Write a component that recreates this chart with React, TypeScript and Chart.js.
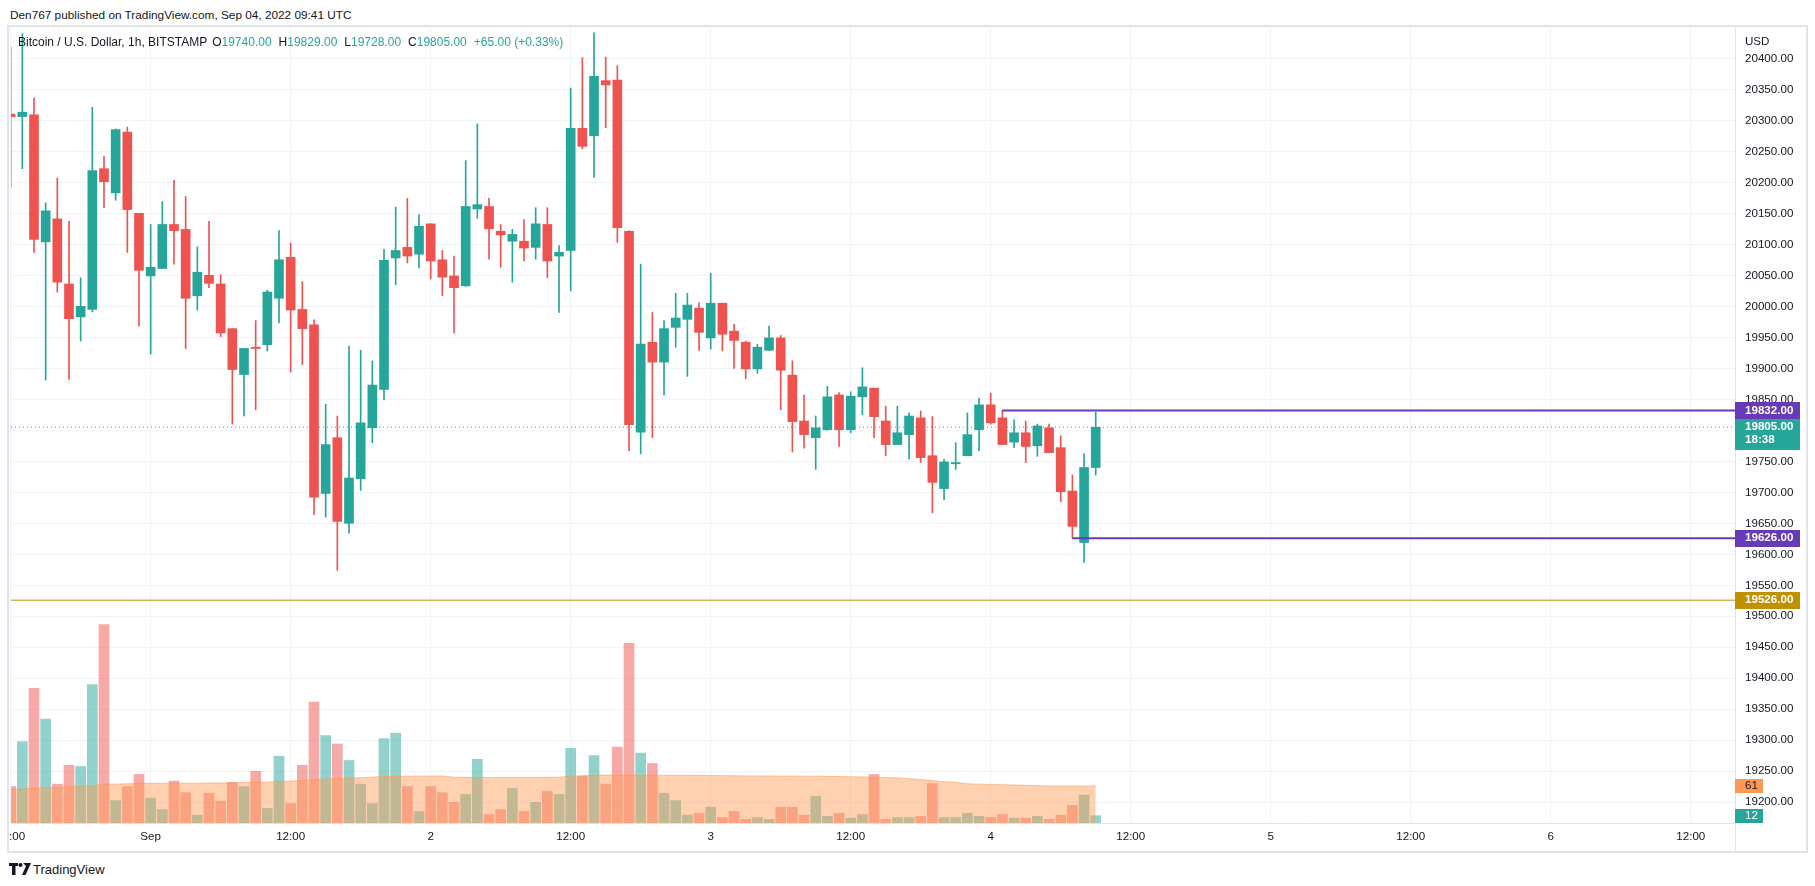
import React, { useEffect, useRef } from 'react';
import { Chart, registerables } from 'chart.js';

Chart.register(...registerables);

const FONT = '"Liberation Sans", Arial, sans-serif';
const TEAL = '#26a69a';
const RED = '#ef5350';
const PURPLE = '#673ab7';
const GOLD = '#bf9000';
const TEXT = '#131722';
const GRID = '#f0f3fa';
const BORDER = '#e0e3eb';

// hours relative to Sep 1 2022 00:00 UTC; first candle = Aug 31 12:00
const FIRST_HOUR = -12;

const opens = [
  20310, 20306, 20309, 20104, 20141, 20036, 19983, 19995, 20222, 20183, 20281, 20150,
  20049, 20061, 20132, 20124, 20017, 20050, 20036, 19964, 19890, 19934, 19938, 20013,
  20079, 19995, 19970, 19698, 19788, 19650, 19722, 19804, 19866, 20078, 20095, 20084,
  20133, 20075, 20049, 20033, 20157, 20161, 20121, 20105, 20105, 20095, 20132, 20081,
  20090, 20287, 20275, 20364, 20365, 20121, 19797, 19942, 19910, 19966, 19979, 19997,
  19949, 20005, 19960, 19942, 19899, 19929, 19949, 19889, 19815, 19788, 19801, 19857,
  19801, 19854, 19868, 19815, 19777, 19793, 19820, 19759, 19706, 19746, 19759, 19801,
  19841, 19820, 19781, 19796, 19775, 19804, 19772, 19702, 19619, 19740,
];
const highs = [
  20418, 20440, 20336, 20167, 20207, 20137, 20046, 20321, 20242, 20286, 20289, 20150,
  20132, 20169, 20203, 20177, 20096, 20137, 20051, 19964, 19932, 19977, 20026, 20122,
  20102, 20040, 19978, 19842, 19823, 19936, 19929, 19912, 20092, 20160, 20174, 20148,
  20133, 20090, 20081, 20235, 20294, 20174, 20132, 20124, 20140, 20159, 20159, 20098,
  20352, 20401, 20441, 20402, 20388, 20122, 20068, 19990, 19977, 20021, 20021, 20006,
  20053, 20005, 19971, 19944, 19939, 19968, 19953, 19912, 19857, 19823, 19871, 19861,
  19862, 19901, 19868, 19839, 19839, 19828, 19831, 19822, 19753, 19780, 19828, 19852,
  19860, 19832, 19817, 19815, 19810, 19810, 19791, 19728, 19762, 19829,
];
const lows = [
  20192, 20222, 20087, 19881, 20023, 19882, 19944, 19991, 20159, 20171, 20087, 19968,
  19923, 20061, 20068, 19932, 19994, 20030, 19951, 19810, 19823, 19833, 19928, 19973,
  19894, 19906, 19664, 19660, 19574, 19634, 19703, 19780, 19849, 20035, 20070, 20062,
  20044, 20017, 19957, 20032, 20142, 20076, 20063, 20039, 20073, 20076, 20046, 19990,
  20025, 20254, 20208, 20288, 20103, 19767, 19762, 19788, 19857, 19934, 19887, 19929,
  19931, 19928, 19900, 19883, 19892, 19929, 19833, 19765, 19771, 19737, 19800, 19774,
  19796, 19825, 19788, 19759, 19777, 19754, 19748, 19667, 19688, 19737, 19759, 19767,
  19810, 19777, 19772, 19748, 19758, 19764, 19685, 19626, 19587, 19728,
];
const closes = [
  20306, 20313, 20108, 20154, 20039, 19980, 20000, 20219, 20201, 20285, 20156, 20058,
  20063, 20132, 20122, 20013, 20055, 20037, 19957, 19898, 19932, 19932, 20023, 20075,
  19994, 19964, 19692, 19777, 19653, 19723, 19812, 19873, 20074, 20090, 20081, 20129,
  20073, 20047, 20030, 20161, 20164, 20125, 20115, 20116, 20094, 20133, 20073, 20087,
  20287, 20258, 20371, 20357, 20127, 19809, 19939, 19910, 19964, 19981, 20002, 19958,
  20005, 19955, 19945, 19899, 19934, 19949, 19897, 19814, 19793, 19804, 19854, 19801,
  19855, 19870, 19822, 19777, 19796, 19823, 19756, 19716, 19749, 19748, 19793, 19841,
  19812, 19777, 19796, 19774, 19807, 19764, 19701, 19645, 19740, 19805,
];
const volumes = [
  60, 134, 222, 171, 64, 95, 93, 228, 327, 37, 60, 80,
  41, 22, 69, 50, 13, 49, 36, 67, 60, 85, 24, 110,
  32, 95, 199, 144, 130, 103, 64, 32, 139, 148, 60, 19,
  60, 50, 34, 47, 105, 14, 22, 57, 19, 34, 52, 47,
  123, 77, 111, 64, 125, 296, 115, 98, 49, 37, 13, 16,
  26, 9, 19, 6, 9, 6, 26, 26, 13, 44, 11, 16,
  8, 14, 80, 6, 9, 9, 11, 65, 9, 9, 16, 11,
  9, 14, 8, 8, 11, 6, 13, 29, 46, 12,
];
const volumeMA = [
  55, 56, 57.5, 58, 58.5, 60, 61, 61.5, 64, 64, 64.5, 65,
  65.3, 65.3, 65.5, 65.5, 65.5, 66, 66, 66, 66.5, 67, 67.5, 68.5,
  69, 70, 71.5, 72.5, 73, 74, 74.5, 75.5, 76.5, 77, 77, 77.2,
  77.4, 77.4, 75.5, 75.2, 75, 75, 75, 75, 75, 75, 75.2, 75.5,
  77, 78, 78.5, 79, 79, 79, 79, 78.8, 78.6, 78.5, 78.5, 78.3,
  78.2, 78, 77.8, 77.6, 77.5, 77.4, 77.3, 77.3, 77.2, 77, 76.8, 76.5,
  76.2, 75.8, 75.5, 75, 74.3, 73, 71.5, 70, 68, 67, 64.5, 64,
  63.5, 63, 62.5, 62, 61.5, 61, 61, 61, 61, 61,
];

const timeTickHours = [-12, 0, 12, 24, 36, 48, 60, 72, 84, 96, 108, 120, 132];
const timeTickLabels = ['12:00', 'Sep', '12:00', '2', '12:00', '3', '12:00', '4', '12:00', '5', '12:00', '6', '12:00'];
const priceTicks = [
  19200, 19250, 19300, 19350, 19400, 19450, 19500, 19550, 19600, 19650, 19700, 19750, 19800,
  19850, 19900, 19950, 20000, 20050, 20100, 20150, 20200, 20250, 20300, 20350, 20400,
];

const X_MIN = -11.97;
const X_MAX = 135.79;
const Y_MIN = 19166.6;
const Y_MAX = 20450.5;
const VOL_MAX = 1311;

const levelPrices = [19832, 19626];
const levelStartHours = [73, 79];
const supportPrice = 19526;
const countdownText = '18:38';
const volumeMALabel = 61;

const LAST = closes.length - 1;
const lastPrice = closes[LAST];

const badgePlugin = {
  id: 'axisBadges',
  afterDraw(chart: any) {
    const { ctx, chartArea, scales } = chart;
    const y = scales.y;
    const yv = scales.yv;
    const x0 = chartArea.right;
    ctx.save();
    ctx.font = `bold 11.6px ${FONT}`;
    ctx.textBaseline = 'middle';
    ctx.textAlign = 'left';
    const box = (cy: number, fill: string, lines: string[], w: number, h: number, color: string) => {
      ctx.fillStyle = fill;
      ctx.fillRect(x0, Math.round(cy - h / 2), w, lines.length > 1 ? h + 14 : h);
      ctx.fillStyle = color;
      lines.forEach((t, i) => ctx.fillText(t, x0 + 10, cy + i * 13));
    };
    levelPrices.forEach((p) => box(y.getPixelForValue(p), PURPLE, [p.toFixed(2)], 65, 17, '#ffffff'));
    box(y.getPixelForValue(lastPrice), TEAL, [lastPrice.toFixed(2), countdownText], 65, 17, '#ffffff');
    box(y.getPixelForValue(supportPrice), GOLD, [supportPrice.toFixed(2)], 65, 17, '#ffffff');
    ctx.font = `11.6px ${FONT}`;
    box(yv.getPixelForValue(volumeMALabel), '#ff9850', [String(volumeMALabel)], 28, 14, TEXT);
    box(yv.getPixelForValue(volumes[LAST]), TEAL, [String(volumes[LAST])], 28, 14, '#ffffff');
    ctx.strokeStyle = BORDER;
    ctx.lineWidth = 1;
    ctx.beginPath();
    ctx.moveTo(x0 + 0.5, chartArea.bottom);
    ctx.lineTo(x0 + 0.5, chart.height);
    ctx.stroke();
    ctx.restore();
  },
};

function App() {
  const ref = useRef<HTMLCanvasElement | null>(null);

  useEffect(() => {
    if (!ref.current) return;
    const up = closes.map((c, i) => c >= opens[i]);
    const candleColors = up.map((u) => (u ? TEAL : RED));
    const volColors = up.map((u) => (u ? 'rgba(38,166,154,0.5)' : 'rgba(239,83,80,0.5)'));
    const xs = closes.map((_, i) => FIRST_HOUR + i);

    const fullLine = (price: number, color: string, width: number, dash: number[]) => ({
      type: 'line' as const,
      data: [{ x: X_MIN, y: price }, { x: X_MAX, y: price }],
      borderColor: color,
      borderWidth: width,
      borderDash: dash,
      pointRadius: 0,
      yAxisID: 'y',
      order: 0,
    });

    const chart = new Chart(ref.current, {
      type: 'bar',
      data: {
        datasets: [
          {
            type: 'bar',
            data: xs.map((x, i) => ({ x, y: [opens[i], closes[i]] })) as any,
            backgroundColor: candleColors,
            barThickness: 9,
            minBarLength: 1,
            grouped: false,
            yAxisID: 'y',
            order: 1,
          },
          {
            type: 'bar',
            data: xs.map((x, i) => ({ x, y: [lows[i], highs[i]] })) as any,
            backgroundColor: candleColors,
            barThickness: 1,
            grouped: false,
            yAxisID: 'y',
            order: 2,
          },
          {
            type: 'line',
            data: xs.map((x, i) => ({ x, y: volumeMA[i] })),
            borderColor: 'rgba(255,152,80,0.55)',
            backgroundColor: 'rgba(255,152,80,0.45)',
            borderWidth: 1,
            pointRadius: 0,
            fill: 'origin',
            yAxisID: 'yv',
            order: 3,
          },
          {
            type: 'bar',
            data: xs.map((x, i) => ({ x, y: volumes[i] })),
            backgroundColor: volColors,
            barThickness: 10,
            grouped: false,
            yAxisID: 'yv',
            order: 4,
          },
          fullLine(lastPrice, TEAL, 1, [1, 3]),
          fullLine(supportPrice, GOLD, 1, []),
          ...levelPrices.map((p, k) => ({
            type: 'line' as const,
            data: [{ x: levelStartHours[k], y: p }, { x: X_MAX, y: p }],
            borderColor: PURPLE,
            borderWidth: 2,
            pointRadius: 0,
            yAxisID: 'y',
            order: 0,
          })),
        ] as any,
      },
      options: {
        animation: false,
        responsive: false,
        devicePixelRatio: 1,
        layout: { padding: { left: 2, right: 0, top: 0, bottom: 0 } },
        plugins: { legend: { display: false }, tooltip: { enabled: false } },
        scales: {
          x: {
            type: 'linear',
            min: X_MIN,
            max: X_MAX,
            offset: false,
            bounds: 'data',
            afterBuildTicks: (s: any) => {
              s.ticks = timeTickHours.map((v) => ({ value: v }));
            },
            afterFit: (s: any) => {
              s.height = 28;
              s.paddingLeft = 0;
              s.paddingRight = 0;
            },
            ticks: {
              autoSkip: false,
              maxRotation: 0,
              padding: 7,
              color: TEXT,
              font: { family: FONT, size: 11.6 },
              callback: (_v: any, i: number) => timeTickLabels[i],
            },
            grid: { color: GRID, drawTicks: false, offset: false },
            border: { color: BORDER },
          },
          y: {
            type: 'linear',
            position: 'right',
            min: Y_MIN,
            max: Y_MAX,
            beginAtZero: false,
            bounds: 'data',
            afterBuildTicks: (s: any) => {
              s.ticks = priceTicks.map((v) => ({ value: v }));
            },
            afterFit: (s: any) => {
              s.width = 71;
              s.paddingTop = 0;
              s.paddingBottom = 0;
            },
            ticks: {
              autoSkip: false,
              padding: 10,
              color: TEXT,
              font: { family: FONT, size: 11.6 },
              callback: (v: any) => Number(v).toFixed(2),
            },
            grid: { color: GRID, drawTicks: false },
            border: { color: BORDER },
          },
          yv: {
            type: 'linear',
            display: false,
            min: 0,
            max: VOL_MAX,
          },
        },
      } as any,
      plugins: [badgePlugin],
    });
    return () => chart.destroy();
  }, []);

  const change = closes[LAST] - opens[LAST];
  const pct = (change / opens[LAST]) * 100;
  const legendKeys = ['O', 'H', 'L', 'C'];
  const legendVals = [opens[LAST], highs[LAST], lows[LAST], closes[LAST]];
  const valColor = change >= 0 ? TEAL : RED;

  return (
    <div
      style={{
        position: 'absolute',
        left: 0,
        top: 0,
        width: 1815,
        height: 886,
        background: '#ffffff',
        overflow: 'hidden',
        fontFamily: FONT,
        color: TEXT,
      }}
    >
      <div style={{ position: 'absolute', left: 10, top: 7, fontSize: 11.8, lineHeight: '16px', whiteSpace: 'nowrap' }}>
        Den767 published on TradingView.com, Sep 04, 2022 09:41 UTC
      </div>
      <div
        style={{
          position: 'absolute',
          left: 7,
          top: 25,
          width: 1801,
          height: 828,
          border: `2px solid ${BORDER}`,
          boxSizing: 'border-box',
        }}
      />
      <canvas ref={ref} width={1797} height={824} style={{ position: 'absolute', left: 9, top: 27, width: 1797, height: 824 }} />
      <div style={{ position: 'absolute', left: 18, top: 34, fontSize: 12, lineHeight: '16px', whiteSpace: 'nowrap' }}>
        <span>Bitcoin / U.S. Dollar, 1h, BITSTAMP</span>
        {legendKeys.map((k, i) => (
          <span key={k} style={{ marginLeft: i === 0 ? 5 : 7 }}>
            {k}
            <span style={{ color: valColor }}>{legendVals[i].toFixed(2)}</span>
          </span>
        ))}
        <span style={{ marginLeft: 7, color: valColor }}>
          {(change >= 0 ? '+' : '') + change.toFixed(2)} ({(pct >= 0 ? '+' : '') + pct.toFixed(2)}%)
        </span>
      </div>
      <div style={{ position: 'absolute', left: 1745, top: 33, fontSize: 11.6, lineHeight: '16px' }}>USD</div>
      <div style={{ position: 'absolute', left: 9, top: 861, display: 'flex', alignItems: 'center', height: 16 }}>
        <svg width="22" height="12" viewBox="0 0 22 12">
          <rect x="0" y="0" width="9" height="3" fill="#131722" />
          <rect x="3" y="0" width="3.5" height="12" fill="#131722" />
          <circle cx="11.5" cy="2" r="2" fill="#131722" />
          <polygon points="14,0 18,0 22,0 16.5,12 13,12 17,3" fill="#131722" />
        </svg>
        <span style={{ fontSize: 13, marginLeft: 2, color: '#131722' }}>TradingView</span>
      </div>
    </div>
  );
}

export default App;
